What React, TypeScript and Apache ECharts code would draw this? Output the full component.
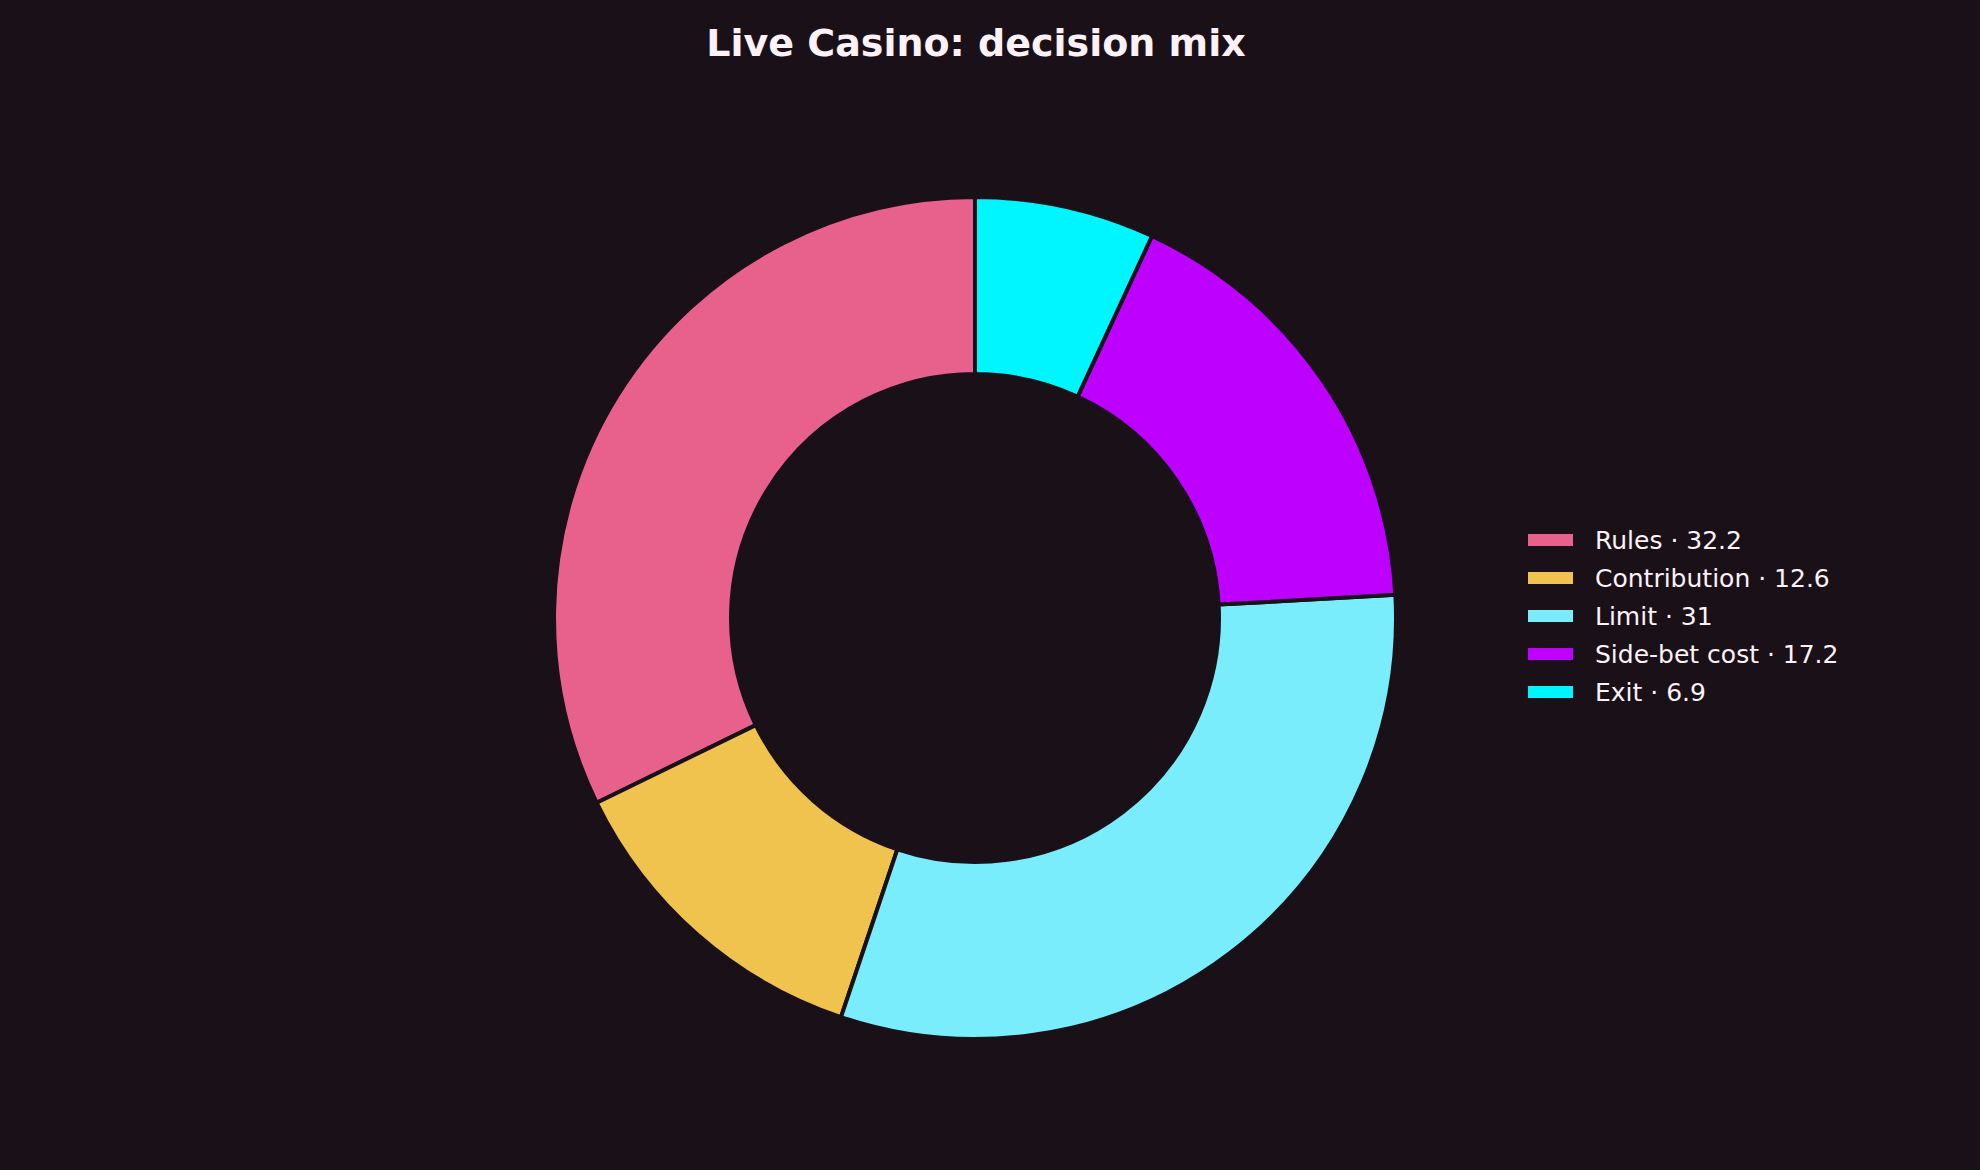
import { useEffect, useRef } from "react";
import * as echarts from "echarts";

const categories = ["Rules", "Contribution", "Limit", "Side-bet cost", "Exit"];
const values = [32.2, 12.6, 31, 17.2, 6.9];
const colors = ["#e8608c", "#f0c24e", "#7aedfc", "#bd00ff", "#00f6ff"];

const BG = "#1a1118";
const INK = "#fdf2f8";
const FONT = "DejaVu Sans";

export default function App() {
  const ref = useRef<HTMLDivElement>(null);

  useEffect(() => {
    document.body.style.margin = "0";
    if (!ref.current) return;
    const chart = echarts.init(ref.current, undefined, { renderer: "svg" });

    const data = categories.map((name, i) => ({
      name: `${name} · ${values[i]}`,
      value: values[i],
      itemStyle: { color: colors[i] },
    }));

    chart.setOption({
      animation: false,
      backgroundColor: BG,
      title: {
        text: "Live Casino: decision mix",
        left: 971,
        top: 19,
        textAlign: "center",
        textStyle: {
          color: INK,
          fontFamily: FONT,
          fontWeight: "bold",
          fontSize: 38,
        },
      },
      legend: {
        orient: "vertical",
        left: 1523,
        top: 522,
        icon: "rect",
        itemWidth: 45,
        itemHeight: 12,
        itemGap: 12,
        itemStyle: { borderWidth: 0 },
        selectedMode: false,
        textStyle: {
          color: INK,
          fontFamily: FONT,
          fontSize: 25,
          lineHeight: 26,
          padding: [0, 0, 0, 17],
        },
      },
      series: [
        {
          type: "pie",
          center: [975, 618],
          radius: [244, 421],
          startAngle: 90,
          clockwise: false,
          label: { show: false },
          labelLine: { show: false },
          emphasis: { disabled: true },
          itemStyle: { borderColor: BG, borderWidth: 4 },
          data,
        },
      ],
    });

    return () => chart.dispose();
  }, []);

  return <div ref={ref} style={{ width: 1980, height: 1170 }} />;
}
